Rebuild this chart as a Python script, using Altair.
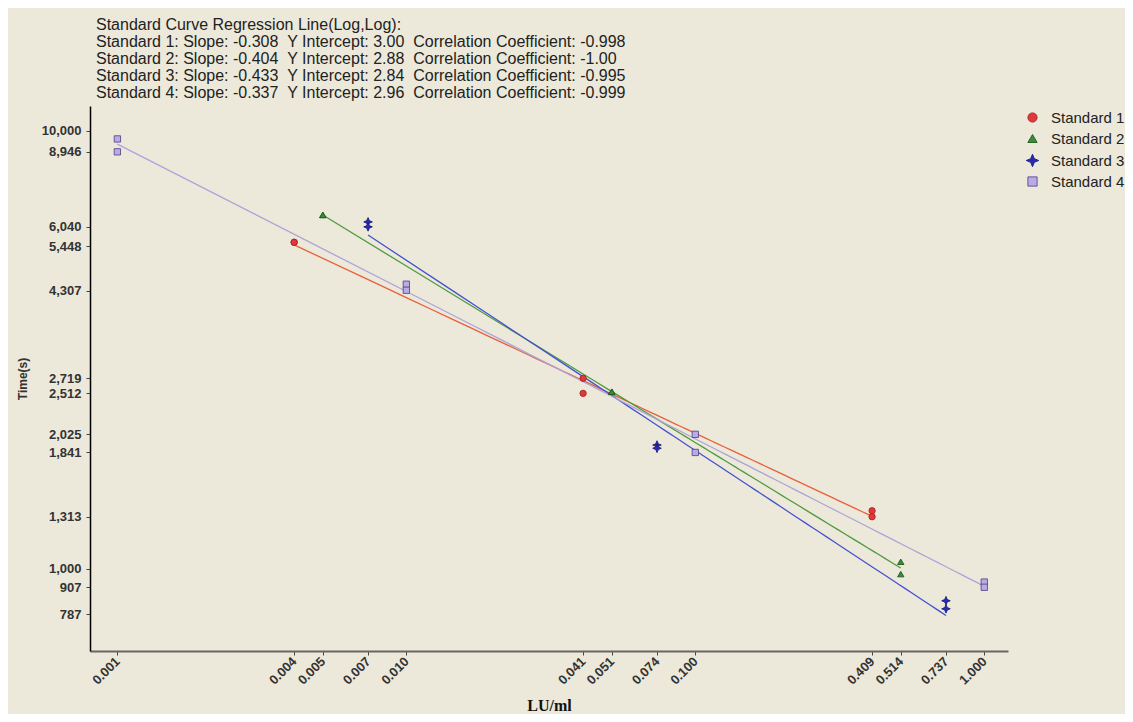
import altair as alt
import pandas as pd

# ---- data ----
standards = ["Standard 1", "Standard 2", "Standard 3", "Standard 4"]

s1_x = [0.00409, 0.00409, 0.0409, 0.0409, 0.409, 0.409]
s1_y = [5560, 5560, 2719, 2512, 1355, 1313]
s2_x = [0.00514, 0.00514, 0.0514, 0.0514, 0.514, 0.514]
s2_y = [6420, 6420, 2534, 2534, 1036, 971]
s3_x = [0.00737, 0.00737, 0.0737, 0.0737, 0.737, 0.737]
s3_y = [6190, 6030, 1914, 1882, 844, 809]
s4_x = [0.001, 0.001, 0.01, 0.01, 0.1, 0.1, 1.0, 1.0]
s4_y = [9575, 8946, 4460, 4320, 2025, 1841, 931, 906]

x_ticks = [0.001, 0.00409, 0.00514, 0.00737, 0.01, 0.0409, 0.0514, 0.0737,
           0.1, 0.409, 0.514, 0.737, 1.0]
y_ticks = [787, 907, 1000, 1313, 1841, 2025, 2512, 2719, 4307, 5448, 6040,
           8946, 10000]

NB = "\u00a0"
title_lines = [
    "Standard Curve Regression Line(Log,Log):",
    f"Standard 1: Slope: -0.308 {NB}Y Intercept: 3.00 {NB}Correlation Coefficient: -0.998",
    f"Standard 2: Slope: -0.404 {NB}Y Intercept: 2.88 {NB}Correlation Coefficient: -1.00",
    f"Standard 3: Slope: -0.433 {NB}Y Intercept: 2.84 {NB}Correlation Coefficient: -0.995",
    f"Standard 4: Slope: -0.337 {NB}Y Intercept: 2.96 {NB}Correlation Coefficient: -0.999",
]

# ---- build table ----
rows = []
for name, xs, ys in zip(standards, [s1_x, s2_x, s3_x, s4_x], [s1_y, s2_y, s3_y, s4_y]):
    for xv, yv in zip(xs, ys):
        rows.append({"Standard": name, "LU": xv, "Time": yv})
df = pd.DataFrame(rows)

star = "M0,-1.35L0.4,-0.4L1.35,0L0.4,0.4L0,1.35L-0.4,0.4L-1.35,0L-0.4,-0.4Z"

fill_colors = ["#E0393A", "#3C8C3A", "#2A2AB0", "#B6ACE6"]
stroke_colors = ["#A82222", "#1E5A1E", "#1C1C80", "#5A4A8C"]
line_colors = ["#E8603C", "#4E9A3E", "#4452D0", "#ADA3DA"]

x_scale = alt.Scale(type="log", domain=[0.000804, 1.208], nice=False)
y_scale = alt.Scale(type="log", domain=[648, 11386], nice=False)

x_enc = alt.X(
    "LU:Q", scale=x_scale, title="LU/ml",
    axis=alt.Axis(values=x_ticks, format=".3f", labelAngle=-45, labelAlign="right",
                  labelBaseline="middle", labelFontWeight="bold", labelFontSize=13,
                  labelColor="#333333", labelPadding=4, labelOverlap=False,
                  tickSize=4, tickColor="#444444",
                  domainColor="#666666", domainWidth=2, grid=False,
                  titleFont="Liberation Serif", titleFontSize=16, titleFontWeight="bold",
                  titleColor="#111111", titlePadding=11),
)
y_enc = alt.Y(
    "Time:Q", scale=y_scale, title="Time(s)",
    axis=alt.Axis(values=y_ticks, format=",d", labelFontWeight="bold", labelFontSize=13,
                  labelColor="#333333", labelPadding=5, labelOverlap=False,
                  tickSize=4, tickColor="#444444",
                  domainColor="#000000", domainWidth=1.5, grid=False,
                  titleFontSize=12, titleFontWeight="bold", titleColor="#333333",
                  titlePadding=12),
)

# regression lines (line colour scale has a data-driven domain so its hidden
# legend does not swallow the marker legend)
lines = alt.Chart(df).transform_calculate(
    Series="datum.Standard"
).transform_regression(
    "LU", "Time", method="pow", groupby=["Series"]
).mark_line(strokeWidth=1.3).encode(
    x=x_enc,
    y=y_enc,
    color=alt.Color("Series:N", scale=alt.Scale(range=line_colors), legend=None),
)

points = alt.Chart(df).mark_point(filled=True, size=40, strokeWidth=0.9, opacity=1).encode(
    x=x_enc,
    y=y_enc,
    fill=alt.Fill("Standard:N", scale=alt.Scale(domain=standards, range=fill_colors), title=None),
    stroke=alt.Stroke("Standard:N", scale=alt.Scale(domain=standards, range=stroke_colors), title=None),
    shape=alt.Shape("Standard:N", scale=alt.Scale(domain=standards, range=["circle", "triangle-up", star, "square"]), title=None),
)

chart = alt.layer(lines, points).properties(
    width=918,
    height=545,
    padding={"left": 82, "top": 98, "right": 117, "bottom": 63},
    autosize=alt.AutoSizeParams(type="none"),
    title=alt.TitleParams(
        text=title_lines, anchor="start", frame="group", fontSize=16,
        fontWeight="normal", color="#222222", lineHeight=17, dx=6, offset=5,
        font="Liberation Sans",
    ),
).configure(
    background="#ECE9DA",
    font="Liberation Sans",
).configure_view(
    stroke=None,
).configure_legend(
    orient="right", offset=13, padding=4,
    labelFontSize=15, labelColor="#222222", symbolSize=85, labelLimit=200,
    rowPadding=5, labelOffset=11, symbolStrokeWidth=0.9, labelFont="Liberation Sans",
)

chart.save("out.html", embed_options={"renderer": "svg", "actions": False})
